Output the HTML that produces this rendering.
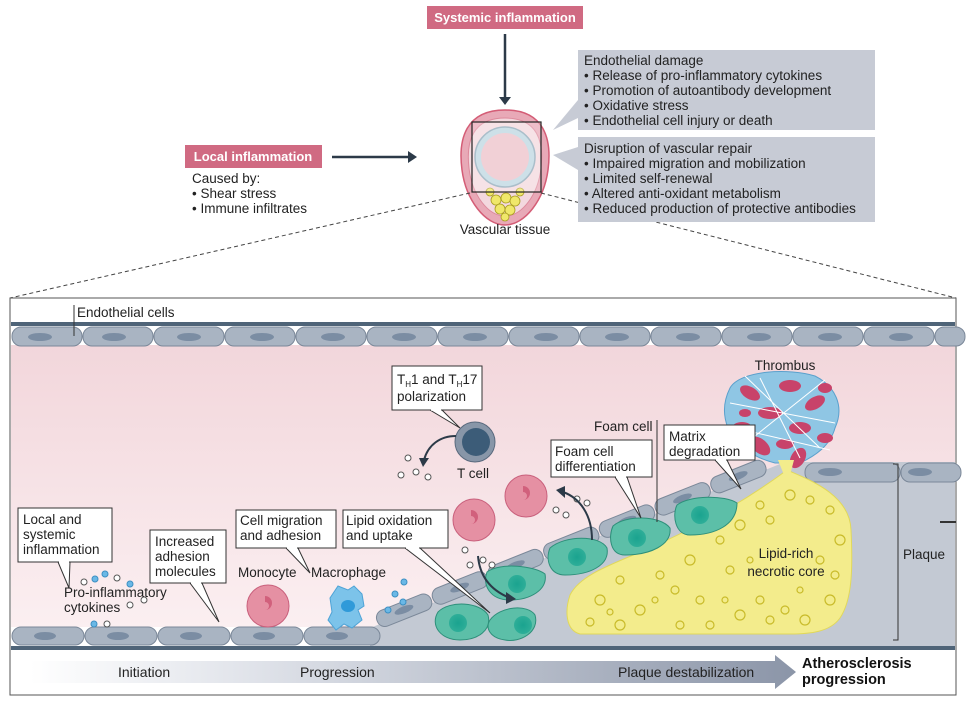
<!DOCTYPE html>
<html><head><meta charset="utf-8"><style>
html,body{margin:0;padding:0;background:#fff;}
svg{display:block;font-family:"Liberation Sans",sans-serif;}
</style></head><body>
<svg width="966" height="704" viewBox="0 0 966 704" xmlns="http://www.w3.org/2000/svg">
<defs>
<linearGradient id="lum" x1="0" y1="0" x2="0" y2="1"><stop offset="0" stop-color="#f2d6db"/><stop offset="1" stop-color="#fbeff1"/></linearGradient>
<linearGradient id="arr" x1="0" y1="0" x2="1" y2="0"><stop offset="0" stop-color="#fff"/><stop offset="0.3" stop-color="#dfe2e9"/><stop offset="1" stop-color="#8b95a8"/></linearGradient>
<radialGradient id="teal" cx="0.5" cy="0.5" r="0.5"><stop offset="0" stop-color="#1aa38f"/><stop offset="1" stop-color="#2eae98"/></radialGradient>
</defs>

<rect x="427" y="6" width="156" height="23" fill="#d06a82"/>
<text x="505" y="22" font-size="13" font-weight="bold" fill="#fff" text-anchor="middle">Systemic inflammation</text>
<line x1="505" y1="34" x2="505" y2="98" stroke="#2c3a48" stroke-width="2.5"/>
<polygon points="499,97 511,97 505,105" fill="#2c3a48"/>
<rect x="185" y="145" width="137" height="23" fill="#d06a82"/>
<text x="253" y="161" font-size="13" font-weight="bold" fill="#fff" text-anchor="middle">Local inflammation</text>
<line x1="332" y1="157" x2="410" y2="157" stroke="#2c3a48" stroke-width="2.5"/>
<polygon points="408,151 408,163 417,157" fill="#2c3a48"/>
<text font-size="13.5" fill="#222"><tspan x="192" y="183">Caused by:</tspan><tspan x="192" y="198">• Shear stress</tspan><tspan x="192" y="213">• Immune infiltrates</tspan></text>

<path d="M505,110 C545,110 552,140 548,170 C544,200 525,225 505,225 C485,225 466,200 462,170 C458,140 465,110 505,110Z" fill="#e8a9b7" stroke="#d45d76" stroke-width="1.5"/>
<path d="M505,118 C538,118 544,142 541,168 C538,195 522,216 505,216 C488,216 472,195 469,168 C466,142 472,118 505,118Z" fill="#f3d8de" stroke="#dd8a9c" stroke-width="1"/>
<g fill="#f0e76a" stroke="#a89c20" stroke-width="0.8"><circle cx="496" cy="200" r="5"/><circle cx="506" cy="198" r="5"/><circle cx="515" cy="201" r="5"/><circle cx="500" cy="209" r="5"/><circle cx="510" cy="210" r="5"/><circle cx="505" cy="217" r="4"/><circle cx="490" cy="192" r="4"/><circle cx="520" cy="192" r="4"/></g>
<circle cx="505" cy="157" r="30" fill="#bcd6e0" stroke="#8ea9b8" stroke-width="1.5"/>
<circle cx="505" cy="157" r="24" fill="#ecc0c9"/>
<rect x="472" y="122" width="69" height="70" fill="rgba(255,255,255,0.25)" stroke="#222" stroke-width="1.2"/>
<text x="505" y="234" font-size="13.5" fill="#222" text-anchor="middle">Vascular tissue</text>
<line x1="470" y1="193" x2="10" y2="298" stroke="#444" stroke-dasharray="4,3"/>
<line x1="541" y1="193" x2="956" y2="298" stroke="#444" stroke-dasharray="4,3"/>

<polygon points="578,100 553,130 578,118" fill="#c7cbd5"/>
<rect x="578" y="50" width="297" height="80" fill="#c7cbd5"/>
<text font-size="13.5" fill="#222"><tspan x="584" y="65">Endothelial damage</tspan><tspan x="584" y="80">• Release of pro-inflammatory cytokines</tspan><tspan x="584" y="95">• Promotion of autoantibody development</tspan><tspan x="584" y="110">• Oxidative stress</tspan><tspan x="584" y="125">• Endothelial cell injury or death</tspan></text>
<polygon points="578,147 553,155 578,170" fill="#c7cbd5"/>
<rect x="578" y="137" width="297" height="85" fill="#c7cbd5"/>
<text font-size="13.5" fill="#222"><tspan x="584" y="153">Disruption of vascular repair</tspan><tspan x="584" y="168">• Impaired migration and mobilization</tspan><tspan x="584" y="183">• Limited self-renewal</tspan><tspan x="584" y="198">• Altered anti-oxidant metabolism</tspan><tspan x="584" y="213">• Reduced production of protective antibodies</tspan></text>

<rect x="10" y="298" width="946" height="397" fill="#fff" stroke="#555" stroke-width="1"/>
<rect x="11" y="345" width="944" height="282" fill="url(#lum)"/>
<rect x="11" y="322" width="944" height="4" fill="#4f6478"/>
<g fill="#a9b4c2" stroke="#7b8899">
<rect x="12" y="327" width="70" height="19" rx="9"/><rect x="83" y="327" width="70" height="19" rx="9"/><rect x="154" y="327" width="70" height="19" rx="9"/><rect x="225" y="327" width="70" height="19" rx="9"/><rect x="296" y="327" width="70" height="19" rx="9"/><rect x="367" y="327" width="70" height="19" rx="9"/><rect x="438" y="327" width="70" height="19" rx="9"/><rect x="509" y="327" width="70" height="19" rx="9"/><rect x="580" y="327" width="70" height="19" rx="9"/><rect x="651" y="327" width="70" height="19" rx="9"/><rect x="722" y="327" width="70" height="19" rx="9"/><rect x="793" y="327" width="70" height="19" rx="9"/><rect x="864" y="327" width="70" height="19" rx="9"/><rect x="935" y="327" width="30" height="19" rx="9"/>
</g>
<g fill="#7b8da3"><ellipse cx="40" cy="337" rx="12" ry="4"/><ellipse cx="114" cy="337" rx="12" ry="4"/><ellipse cx="189" cy="337" rx="12" ry="4"/><ellipse cx="262" cy="337" rx="12" ry="4"/><ellipse cx="333" cy="337" rx="12" ry="4"/><ellipse cx="404" cy="337" rx="12" ry="4"/><ellipse cx="475" cy="337" rx="12" ry="4"/><ellipse cx="546" cy="337" rx="12" ry="4"/><ellipse cx="617" cy="337" rx="12" ry="4"/><ellipse cx="688" cy="337" rx="12" ry="4"/><ellipse cx="759" cy="337" rx="12" ry="4"/><ellipse cx="830" cy="337" rx="12" ry="4"/><ellipse cx="901" cy="337" rx="12" ry="4"/></g>
<line x1="74" y1="305" x2="74" y2="336" stroke="#333"/>
<text x="77" y="317" font-size="13.5" fill="#222">Endothelial cells</text>

<path d="M370,628 L785,462 L955,462 L955,646 L370,646Z" fill="#c3c9d3"/>
<g transform="rotate(-21.8 380 628)" fill="#a9b4c2" stroke="#7b8899">
<rect x="380" y="612" width="58" height="17" rx="8"/><rect x="440" y="612" width="58" height="17" rx="8"/><rect x="500" y="612" width="58" height="17" rx="8"/><rect x="560" y="612" width="58" height="17" rx="8"/><rect x="620" y="612" width="58" height="17" rx="8"/><rect x="680" y="612" width="58" height="17" rx="8"/><rect x="740" y="612" width="58" height="17" rx="8"/>
</g>
<g transform="rotate(-21.8 380 628)" fill="#7b8da3"><ellipse cx="409" cy="620" rx="10" ry="3.5"/><ellipse cx="469" cy="620" rx="10" ry="3.5"/><ellipse cx="529" cy="620" rx="10" ry="3.5"/><ellipse cx="589" cy="620" rx="10" ry="3.5"/><ellipse cx="649" cy="620" rx="10" ry="3.5"/><ellipse cx="709" cy="620" rx="10" ry="3.5"/><ellipse cx="769" cy="620" rx="10" ry="3.5"/></g>
<rect x="805" y="463" width="95" height="19" rx="9" fill="#a9b4c2" stroke="#7b8899"/>
<rect x="901" y="463" width="60" height="19" rx="9" fill="#a9b4c2" stroke="#7b8899"/>
<ellipse cx="830" cy="472" rx="12" ry="4" fill="#7b8da3"/><ellipse cx="920" cy="472" rx="12" ry="4" fill="#7b8da3"/>
<g fill="#a9b4c2" stroke="#7b8899">
<rect x="12" y="627" width="72" height="18" rx="9"/><rect x="85" y="627" width="72" height="18" rx="9"/><rect x="158" y="627" width="72" height="18" rx="9"/><rect x="231" y="627" width="72" height="18" rx="9"/><rect x="304" y="627" width="76" height="18" rx="9"/>
</g>
<g fill="#7b8da3"><ellipse cx="45" cy="636" rx="11" ry="4"/><ellipse cx="118" cy="636" rx="11" ry="4"/><ellipse cx="191" cy="636" rx="11" ry="4"/><ellipse cx="264" cy="636" rx="11" ry="4"/><ellipse cx="337" cy="636" rx="11" ry="4"/></g>
<rect x="11" y="646" width="944" height="4" fill="#4f6478"/>

<path d="M787,470 C810,480 850,495 851,530 C853,570 852,600 840,618 C830,632 810,634 790,634 L580,634 C565,630 565,610 570,595 C580,575 610,565 650,548 C700,525 740,505 787,470Z" fill="#f3ec8c" stroke="#e1d85a"/>
<g fill="none" stroke="#c9bb2a" stroke-width="1.2">
<circle cx="600" cy="600" r="5"/><circle cx="620" cy="580" r="4"/><circle cx="640" cy="610" r="5"/><circle cx="660" cy="575" r="4"/><circle cx="690" cy="560" r="5"/><circle cx="700" cy="600" r="4"/><circle cx="720" cy="540" r="4"/><circle cx="740" cy="525" r="5"/><circle cx="760" cy="505" r="4"/><circle cx="790" cy="495" r="5"/><circle cx="810" cy="500" r="4"/><circle cx="830" cy="510" r="4"/><circle cx="840" cy="540" r="5"/><circle cx="835" cy="575" r="4"/><circle cx="830" cy="600" r="5"/><circle cx="805" cy="620" r="5"/><circle cx="770" cy="620" r="4"/><circle cx="740" cy="615" r="5"/><circle cx="710" cy="625" r="4"/><circle cx="680" cy="625" r="4"/><circle cx="620" cy="625" r="5"/><circle cx="590" cy="622" r="4"/><circle cx="730" cy="570" r="4"/><circle cx="760" cy="600" r="4"/><circle cx="800" cy="590" r="3"/><circle cx="610" cy="612" r="3"/><circle cx="655" cy="600" r="3"/><circle cx="675" cy="590" r="4"/><circle cx="750" cy="560" r="3"/><circle cx="770" cy="520" r="4"/><circle cx="820" cy="560" r="4"/><circle cx="725" cy="600" r="3"/><circle cx="785" cy="610" r="4"/></g>

<g fill="#5cbfa8" stroke="#2e8f7a">
<path d="M438,612 C450,600 480,602 488,615 C492,630 478,640 460,640 C440,640 430,625 438,612Z"/>
<path d="M490,620 C500,606 528,604 535,615 C540,632 520,643 505,640 C490,638 485,628 490,620Z"/>
<path d="M487,572 C500,562 535,566 545,574 C548,590 530,600 510,600 C490,600 482,585 487,572Z"/>
<path d="M550,548 C565,535 600,535 607,548 C610,565 590,575 565,575 C550,575 545,560 550,548Z"/>
<path d="M613,526 C625,515 660,515 670,528 C672,545 650,555 625,555 C610,555 608,537 613,526Z"/>
<path d="M677,505 C690,495 725,495 737,503 C737,525 715,535 690,535 C675,535 672,515 677,505Z"/></g>
<g fill="url(#teal)"><circle cx="458" cy="623" r="9"/><circle cx="523" cy="625" r="9"/><circle cx="517" cy="584" r="9"/><circle cx="577" cy="557" r="9"/><circle cx="637" cy="538" r="9"/><circle cx="700" cy="515" r="9"/></g>

<g transform="translate(0,8)">
<path d="M730,380 C740,362 790,360 815,368 C835,378 845,398 835,420 C830,438 815,448 800,455 L775,455 C755,450 735,438 728,420 C722,405 724,392 730,380Z" fill="#8fc6e4" stroke="#5ba0cc"/>
<g fill="#c8436a"><ellipse cx="750" cy="385" rx="11" ry="6" transform="rotate(30 750 385)"/><ellipse cx="790" cy="378" rx="11" ry="6"/><ellipse cx="815" cy="395" rx="11" ry="6" transform="rotate(-30 815 395)"/><ellipse cx="770" cy="405" rx="12" ry="6"/><ellipse cx="742" cy="420" rx="10" ry="6"/><ellipse cx="800" cy="420" rx="11" ry="6"/><ellipse cx="825" cy="430" rx="8" ry="5"/><ellipse cx="760" cy="438" rx="12" ry="7" transform="rotate(40 760 438)"/><ellipse cx="785" cy="436" rx="9" ry="5"/><ellipse cx="798" cy="450" rx="7" ry="11" transform="rotate(30 798 450)"/><ellipse cx="745" cy="405" rx="6" ry="4"/><ellipse cx="825" cy="380" rx="7" ry="5"/></g>
<g stroke="#fff" stroke-width="1" fill="none"><path d="M730,395 L835,415 M740,440 L825,372 M760,370 L800,450 M735,420 L830,442 M745,368 L820,440"/></g>
<path d="M778,452 L794,452 L790,467 L784,467Z" fill="#f3ec8c"/>
</g>
<text x="785" y="370" font-size="13.5" fill="#222" text-anchor="middle">Thrombus</text>

<g fill="#e590a3" stroke="#c9607c"><circle cx="268" cy="606" r="21"/><circle cx="474" cy="520" r="21"/><circle cx="526" cy="496" r="21"/></g>
<g fill="#d1607c"><path d="M265,596 a7,7 0 1 1 0,14 a4,4 0 0 0 0,-8Z"/><path d="M471,510 a7,7 0 1 1 0,14 a4,4 0 0 0 0,-8Z"/><path d="M523,486 a7,7 0 1 1 0,14 a4,4 0 0 0 0,-8Z"/></g>
<path d="M330,598 l8,-12 l10,4 l6,-4 l8,8 l2,12 l-6,4 l4,10 l-10,8 l-8,-4 l-8,6 l-8,-10 l4,-8Z" fill="#7cc3ea" stroke="#4ea3d6"/>
<ellipse cx="348" cy="606" rx="7" ry="6" fill="#2f9ad9"/>
<circle cx="475" cy="442" r="20" fill="#8896a8" stroke="#5a6a7e"/><circle cx="476" cy="442" r="14" fill="#3c5c78"/>

<g fill="#fff" stroke="#555"><circle cx="408" cy="458" r="3"/><circle cx="401" cy="475" r="3"/><circle cx="416" cy="472" r="3"/><circle cx="428" cy="477" r="3"/><circle cx="465" cy="550" r="3"/><circle cx="483" cy="560" r="3"/><circle cx="470" cy="565" r="3"/><circle cx="492" cy="565" r="3"/><circle cx="556" cy="510" r="3"/><circle cx="566" cy="515" r="3"/><circle cx="577" cy="499" r="3"/><circle cx="587" cy="503" r="3"/><circle cx="84" cy="582" r="3"/><circle cx="117" cy="578" r="3"/><circle cx="130" cy="605" r="3"/><circle cx="144" cy="600" r="3"/><circle cx="107" cy="624" r="3"/></g>
<g fill="#6ab8e6" stroke="#3d8fc2"><circle cx="95" cy="579" r="3"/><circle cx="105" cy="574" r="3"/><circle cx="130" cy="584" r="3"/><circle cx="94" cy="624" r="3"/><circle cx="404" cy="582" r="3"/><circle cx="395" cy="594" r="3"/><circle cx="403" cy="602" r="3"/><circle cx="388" cy="610" r="3"/></g>
<g fill="none" stroke="#2c3a48" stroke-width="2"><path d="M456,436 C440,436 428,445 424,460"/><path d="M478,556 C480,580 495,592 510,598"/><path d="M592,540 C592,515 580,498 563,492"/></g>
<g fill="#2c3a48"><polygon points="419,458 429,458 423,467"/><polygon points="506,592 506,604 516,599"/><polygon points="565,486 565,498 556,490"/></g>

<g fill="#fff" stroke="#333" stroke-width="1">
<rect x="18" y="508" width="94" height="54"/><polygon points="58,562 70,562 69,588"/>
<rect x="150" y="530" width="76" height="53"/><polygon points="190,583 202,583 219,622"/>
<rect x="236" y="510" width="100" height="38"/><polygon points="286,548 298,548 310,573"/>
<rect x="343" y="510" width="105" height="38"/><polygon points="405,548 420,548 490,613"/>
<rect x="392" y="366" width="90" height="44"/><polygon points="430,410 442,410 460,428"/>
<rect x="551" y="440" width="101" height="37"/><polygon points="615,477 627,477 641,518"/>
<rect x="664" y="425" width="91" height="35"/><polygon points="715,460 727,460 741,489"/>
</g>
<g stroke="#fff" stroke-width="1.5"><line x1="59" y1="562" x2="69" y2="562"/><line x1="191" y1="583" x2="201" y2="583"/><line x1="287" y1="548" x2="297" y2="548"/><line x1="406" y1="548" x2="419" y2="548"/><line x1="431" y1="410" x2="441" y2="410"/><line x1="616" y1="477" x2="626" y2="477"/><line x1="716" y1="460" x2="726" y2="460"/></g>
<line x1="657" y1="420" x2="657" y2="522" stroke="#333"/>
<g font-size="13.5" fill="#222">
<text><tspan x="23" y="524">Local and</tspan><tspan x="23" y="539">systemic</tspan><tspan x="23" y="554">inflammation</tspan></text>
<text><tspan x="155" y="546">Increased</tspan><tspan x="155" y="561">adhesion</tspan><tspan x="155" y="576">molecules</tspan></text>
<text><tspan x="240" y="525">Cell migration</tspan><tspan x="240" y="540">and adhesion</tspan></text>
<text><tspan x="346" y="525">Lipid oxidation</tspan><tspan x="346" y="540">and uptake</tspan></text>
<text><tspan x="397" y="384">T<tspan font-size="8" dy="3">H</tspan><tspan dy="-3">1 and T</tspan><tspan font-size="8" dy="3">H</tspan><tspan dy="-3">17</tspan></tspan><tspan x="397" y="401">polarization</tspan></text>
<text><tspan x="555" y="456">Foam cell</tspan><tspan x="555" y="471">differentiation</tspan></text>
<text><tspan x="669" y="441">Matrix</tspan><tspan x="669" y="456">degradation</tspan></text>
<text x="594" y="431">Foam cell</text>
<text x="457" y="478">T cell</text>
<text x="238" y="577">Monocyte</text>
<text x="311" y="577">Macrophage</text>
<text><tspan x="64" y="597">Pro-inflammatory</tspan><tspan x="64" y="612">cytokines</tspan></text>
<text text-anchor="middle"><tspan x="786" y="558">Lipid-rich</tspan><tspan x="786" y="576">necrotic core</tspan></text>
<text x="903" y="559">Plaque</text>
</g>
<path d="M893,464 L898,464 L898,640 L893,640" fill="none" stroke="#333"/>
<line x1="940" y1="522" x2="956" y2="522" stroke="#333" stroke-width="2"/>

<polygon points="30,661 775,661 775,655 796,672 775,689 775,683 30,683" fill="url(#arr)"/>
<g font-size="14" fill="#222"><text x="118" y="677">Initiation</text><text x="300" y="677">Progression</text><text x="618" y="677">Plaque destabilization</text></g>
<text font-size="14.5" font-weight="bold" fill="#111"><tspan x="802" y="668">Atherosclerosis</tspan><tspan x="802" y="684">progression</tspan></text>
</svg>
</body></html>
